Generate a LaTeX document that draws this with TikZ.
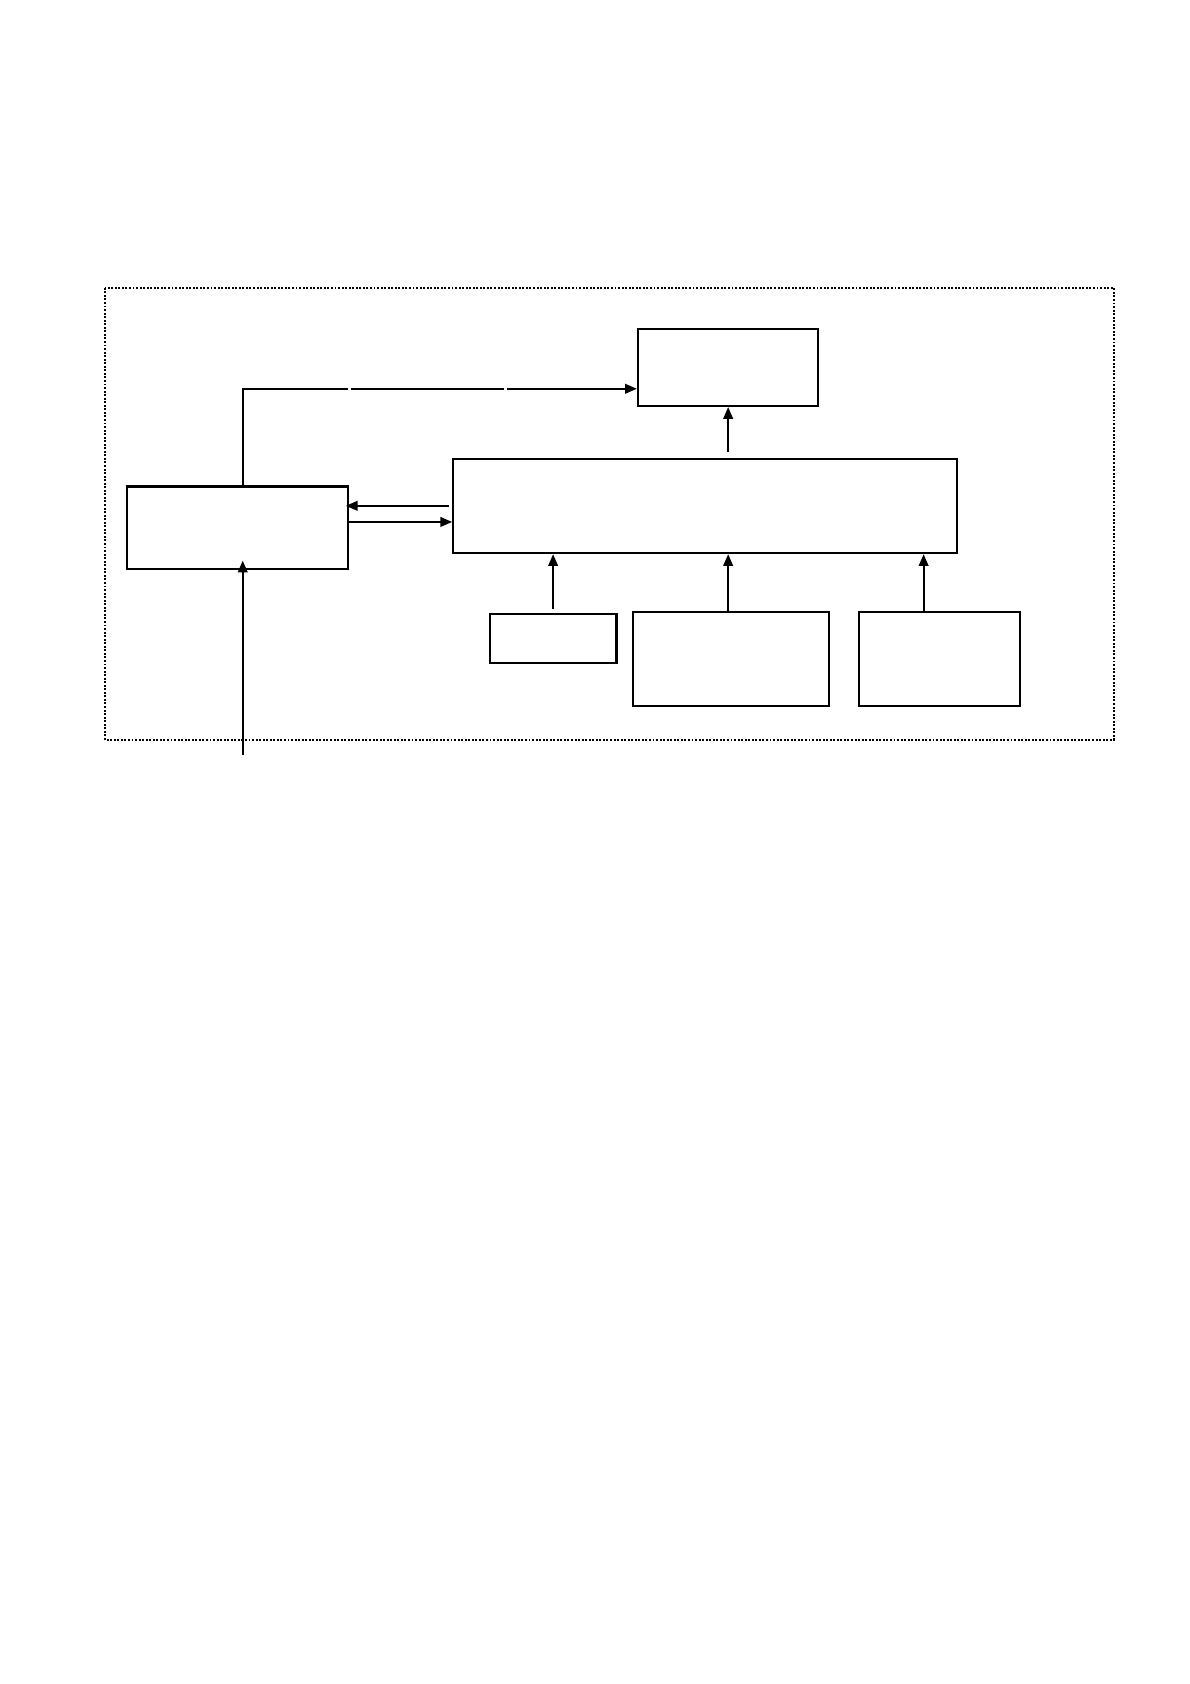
\documentclass[tikz,border=0pt]{standalone}
\usetikzlibrary{arrows.meta,calc}
\begin{document}
\begin{tikzpicture}[x=1pt,y=-1pt,
  box/.style={draw,line width=2pt,inner sep=0pt,rectangle},
  arr/.style={line width=1.8pt,-{Triangle[length=11pt,width=9pt]}},
  ln/.style={line width=1.8pt},
  frame/.style={line width=2pt,dash pattern=on 1.8pt off 1.5pt}]
\useasboundingbox (0,0) rectangle (1108,1568);
\draw[frame] (98,268) rectangle (1037,689);
\node[box,minimum width=168pt,minimum height=72pt] (A) at (678,342) {};
\node[box,minimum width=206pt,minimum height=77pt] (B) at (221,491.5) {};
\node[box,minimum width=469pt,minimum height=88pt] (C) at (656.5,471) {};
\node[box,minimum width=118pt,minimum height=45pt] (D) at (515,594.5) {};
\node[box,minimum width=183pt,minimum height=87pt] (E) at (680.5,613.5) {};
\node[box,minimum width=150pt,minimum height=87pt] (F) at (875,613.5) {};
\coordinate (bx) at (226,362);
\coordinate (g1) at (324,362);
\coordinate (g2) at (327,362);
\coordinate (g3) at (469,362);
\coordinate (g4) at (472,362);
\draw[ln] ([yshift=-1pt]B.north -| bx) -- (bx) -- (g1);
\draw[ln] (g2) -- (g3);
\draw[arr] (g4) -- (A.west |- bx);
\draw[arr] ([yshift=5pt]C.north -| A.south) -- (A.south);
\coordinate (cb) at (0,471);
\coordinate (bc) at (0,486);
\draw[arr] ([xshift=-3pt]C.west |- cb) -- ([xshift=-3pt]B.east |- cb);
\draw[arr] (B.east |- bc) -- (C.west |- bc);
\coordinate (dx) at (515,0);
\coordinate (ex) at (678,0);
\coordinate (fx) at (860,0);
\draw[arr] ([yshift=4pt]D.north -| dx) -- (C.south -| dx);
\draw[arr] (E.north -| ex) -- (C.south -| ex);
\draw[arr] (F.north -| fx) -- (C.south -| fx);
\coordinate (in) at (226,703);
\draw[arr] (in) -- ([yshift=9pt]B.south -| in);
\end{tikzpicture}
\end{document}
